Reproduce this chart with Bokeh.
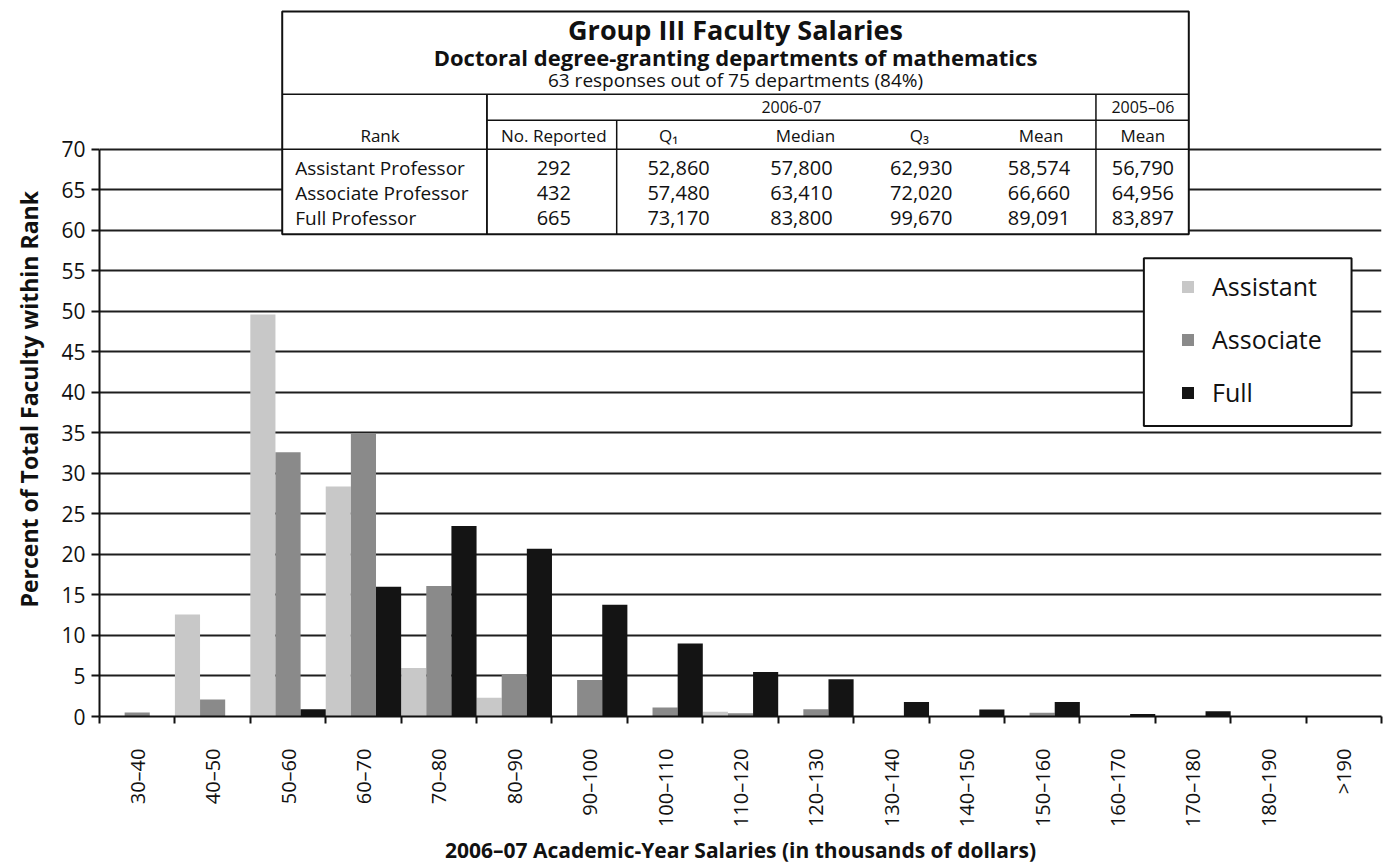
from math import pi
from bokeh.plotting import figure
from bokeh.models import Range1d, FixedTicker, Legend, LegendItem, Title
from bokeh.core.properties import value
from bokeh.embed import file_html
from bokeh.resources import INLINE

# ---------------- data ----------------
categories = ["30–40", "40–50", "50–60", "60–70", "70–80", "80–90", "90–100",
              "100–110", "110–120", "120–130", "130–140", "140–150", "150–160",
              "160–170", "170–180", "180–190", ">190"]
assistant = [0, 12.6, 49.6, 28.4, 6.0, 2.3, 0, 0, 0.6, 0, 0, 0, 0, 0, 0, 0, 0]
associate = [0.5, 2.1, 32.6, 35.0, 16.1, 5.2, 4.5, 1.1, 0.4, 0.9, 0, 0, 0.45, 0, 0, 0, 0]
full = [0, 0, 0.9, 16.0, 23.5, 20.7, 13.8, 9.0, 5.5, 4.6, 1.8, 0.85, 1.8, 0.3, 0.65, 0, 0]

y_ticks = list(range(0, 75, 5))

ranks = ["Assistant Professor", "Associate Professor", "Full Professor"]
n_reported = [292, 432, 665]
q1 = [52860, 57480, 73170]
median = [57800, 63410, 83800]
q3 = [62930, 72020, 99670]
mean_0607 = [58574, 66660, 89091]
mean_0506 = [56790, 64956, 83897]

title = "Group III Faculty Salaries"
subtitle = "Doctoral degree-granting departments of mathematics"
subtitle2 = "63 responses out of 75 departments (84%)"
x_title = "2006–07 Academic-Year Salaries (in thousands of dollars)"
y_title = "Percent of Total Faculty within Rank"

# ---------------- layout helpers (canvas pixels -> data) ----------------
W, H = 1383, 867
FL, FR, FB, FT = 97, 1381, 717, 0
N = len(categories)
PXU = (FR - FL) / N
PYU = 8.114


def X(px):
    return (px - FL) / PXU


def Y(py):
    return (FB - py) / PYU


FONT = "Open Sans"
INK = "#111111"

p = figure(width=W, height=H, x_range=Range1d(0, N), y_range=Range1d(0, Y(FT)),
           output_backend="svg", toolbar_location=None,
           min_border_left=FL, min_border_right=W - FR, min_border_top=FT,
           min_border_bottom=H - FB)
p.outline_line_color = None
p.background_fill_color = "white"

# x axis
p.xaxis.ticker = FixedTicker(ticks=[i + 0.5 for i in range(N)], minor_ticks=list(range(N + 1)))
p.xaxis.major_label_overrides = {i + 0.5: c for i, c in enumerate(categories)}
p.xaxis.major_label_orientation = pi / 2
p.xaxis.major_tick_line_color = None
p.xaxis.major_tick_out = 0
p.xaxis.major_tick_in = 0
p.xaxis.minor_tick_out = 7
p.xaxis.minor_tick_in = 0
p.xaxis.minor_tick_line_width = 2
p.xaxis.minor_tick_line_color = INK
p.xaxis.major_label_standoff = 25
p.xaxis.major_label_text_font = FONT
p.xaxis.major_label_text_font_size = "20px"
p.xaxis.major_label_text_color = INK
p.xaxis.axis_line_width = 2
p.xaxis.axis_line_color = INK
p.xaxis.axis_label = x_title
p.xaxis.axis_label_standoff = 6
p.xaxis.axis_label_text_font = FONT
p.xaxis.axis_label_text_font_size = "21px"
p.xaxis.axis_label_text_font_style = "bold"
p.xaxis.axis_label_text_color = INK

# y axis
p.yaxis.ticker = FixedTicker(ticks=y_ticks)
p.yaxis.bounds = (0, 70)
p.yaxis.major_tick_out = 8
p.yaxis.major_tick_in = 0
p.yaxis.major_tick_line_width = 2
p.yaxis.major_tick_line_color = INK
p.yaxis.minor_tick_line_color = None
p.yaxis.major_label_standoff = 6
p.yaxis.major_label_text_font = FONT
p.yaxis.major_label_text_font_size = "21px"
p.yaxis.major_label_text_color = INK
p.yaxis.axis_line_width = 2
p.yaxis.axis_line_color = INK

p.add_layout(Title(text=y_title, align="left", offset=109, vertical_align="top",
                   standoff=24, text_font=FONT, text_font_size="23px",
                   text_font_style="bold", text_color=INK), "left")

p.xgrid.visible = False
p.ygrid.grid_line_color = "#1e1e1e"
p.ygrid.grid_line_width = 2

# bars
xs = list(range(N))
w = 1 / 3
r_a = p.vbar(x=[i + w / 2 for i in xs], top=assistant, width=w, fill_color="#c8c8c8", line_color=None)
r_b = p.vbar(x=[i + 1.5 * w for i in xs], top=associate, width=w, fill_color="#8a8a8a", line_color=None)
r_c = p.vbar(x=[i + 2.5 * w for i in xs], top=full, width=w, fill_color="#141414", line_color=None)

# ---------------- table ----------------
TL, TR, TT, TBm = 280, 1188, 11, 234
p.quad(left=[X(TL)], right=[X(TR)], top=[Y(TT)], bottom=[Y(TBm)],
       fill_color="white", line_color=INK, line_width=2)

seg_x0 = [TL, 485, 485, TL, 485, 615, 1095]
seg_y0 = [94, 120, 94, 149, 94, 120, 94]
seg_x1 = [TR, TR, 485, TR, 485, 615, 1095]
seg_y1 = [94, 120, 234, 149, 234, 234, 234]
p.segment(x0=[X(v) for v in seg_x0], y0=[Y(v) for v in seg_y0],
          x1=[X(v) for v in seg_x1], y1=[Y(v) for v in seg_y1],
          line_color=INK, line_width=1.5)

TC = (TL + TR) / 2


def txt(xpx, ypx, texts, size, bold=False, align="center"):
    p.text(x=[X(v) for v in xpx], y=[Y(v) for v in ypx], text=texts,
           text_align=align, text_baseline="middle", text_font=value(FONT),
           text_font_size=size, text_font_style="bold" if bold else "normal",
           text_color=INK)


txt([TC], [29], [title], "27px", bold=True)
txt([TC], [57], [subtitle], "22px", bold=True)
txt([TC], [80], [subtitle2], "19px")
txt([(485 + 1095) / 2, 1142], [107, 107], ["2006-07", "2005–06"], "16px")
head_x = [552, 667, 804, 918, 1040, 1142]
txt([378] + head_x, [135] * 7,
    ["Rank", "No. Reported", "Q₁", "Median", "Q₃", "Mean", "Mean"], "17px")
row_y = [168, 193, 218]
txt([293] * 3, row_y, ranks, "19px", align="left")
col_x = [552, 677, 800, 920, 1038, 1142]
cols = [n_reported, q1, median, q3, mean_0607, mean_0506]
for cx, col in zip(col_x, cols):
    txt([cx] * 3, row_y, ["{:,}".format(v) for v in col], "20px")

# ---------------- legend ----------------
LL, LR, LT, LBm = 1143, 1351, 258, 426
p.quad(left=[X(LL)], right=[X(LR)], top=[Y(LT)], bottom=[Y(LBm)],
       fill_color="white", line_color=INK, line_width=2)
legend = Legend(items=[LegendItem(label="Assistant", renderers=[r_a]),
                       LegendItem(label="Associate", renderers=[r_b]),
                       LegendItem(label="Full", renderers=[r_c])],
                location=(1180 - FL - 2, FB - 410), orientation="vertical",
                padding=0, margin=0, spacing=19, label_height=34,
                glyph_width=15, glyph_height=15, label_standoff=17,
                label_text_font=FONT, label_text_font_size="25px",
                label_text_color=INK,
                background_fill_alpha=0, border_line_color=None)
p.add_layout(legend)

open("out.html", "w").write(file_html(p, INLINE))
